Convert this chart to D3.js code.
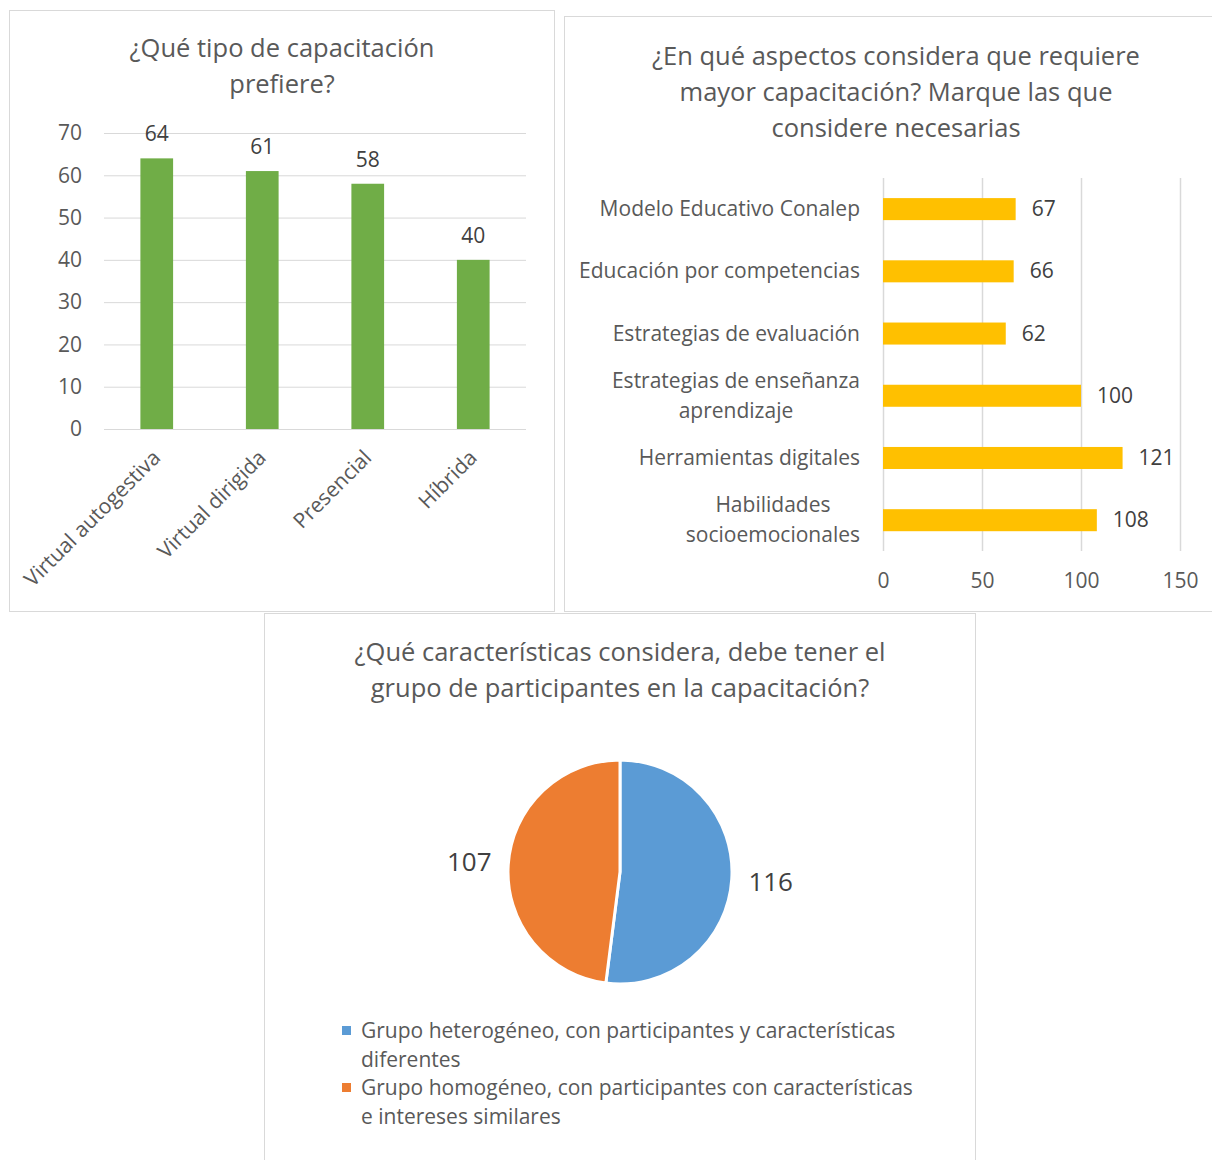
<!DOCTYPE html>
<html>
<head>
<meta charset="utf-8">
<script src="https://cdn.jsdelivr.net/npm/d3@7"></script>
<style>
  body { margin: 0; background: #fff; }
  text { font-family: "Open Sans", "Noto Sans", sans-serif; }
</style>
</head>
<body>
<div id="chart"></div>
<script>
// chart 1: tipo de capacitación
const tipoCategorias = ["Virtual autogestiva", "Virtual dirigida", "Presencial", "Híbrida"];
const tipoValores = [64, 61, 58, 40];
const tipoTicks = [0, 10, 20, 30, 40, 50, 60, 70];

// chart 2: aspectos que requieren capacitación
const aspectoCategorias = [
  ["Modelo Educativo Conalep"],
  ["Educación por competencias"],
  ["Estrategias de evaluación"],
  ["Estrategias de enseñanza", "aprendizaje"],
  ["Herramientas digitales"],
  ["Habilidades", "socioemocionales"]
];
const aspectoValores = [67, 66, 62, 100, 121, 108];
const aspectoTicks = [0, 50, 100, 150];

// chart 3: características del grupo
const grupoEtiquetas = [
  ["Grupo heterogéneo, con participantes y características", "diferentes"],
  ["Grupo homogéneo, con participantes con características", "e intereses similares"]
];
const grupoValores = [116, 107];

const gridColor = "#d9d9d9";
const textColor = "#595959";
const labelColor = "#404040";

const svg = d3.select("#chart").append("svg")
  .attr("width", 1212)
  .attr("height", 1160);

// panel borders
svg.append("rect").attr("x", 9.5).attr("y", 10.5).attr("width", 545).attr("height", 601)
  .attr("fill", "none").attr("stroke", gridColor);
svg.append("rect").attr("x", 564.5).attr("y", 16.5).attr("width", 660).attr("height", 595)
  .attr("fill", "none").attr("stroke", gridColor);
svg.append("rect").attr("x", 264.5).attr("y", 613.5).attr("width", 711).attr("height", 560)
  .attr("fill", "none").attr("stroke", gridColor);

function title(lines, cx, y0, step) {
  svg.append("g").selectAll("text")
    .data(lines)
    .enter().append("text")
    .attr("x", cx)
    .attr("y", (d, i) => y0 + i * step)
    .attr("text-anchor", "middle")
    .attr("font-size", 25.5)
    .attr("fill", textColor)
    .text(d => d);
}

// ---------- chart 1 ----------
title(["¿Qué tipo de capacitación", "prefiere?"], 282, 57, 36);

const x1 = d3.scaleBand()
  .domain(tipoCategorias)
  .range([104, 526])
  .paddingInner(0.69)
  .paddingOuter(0.345);
const y1 = d3.scaleLinear().domain([0, 70]).range([429, 133]);

const g1 = svg.append("g");
g1.append("g")
  .attr("transform", "translate(104,0)")
  .call(d3.axisLeft(y1).tickValues(tipoTicks).tickSize(-422).tickPadding(22))
  .call(g => g.select(".domain").remove())
  .call(g => g.selectAll(".tick line").attr("stroke", gridColor))
  .call(g => g.selectAll(".tick text").attr("font-size", 21).attr("fill", textColor)
    .attr("font-family", "'Open Sans', sans-serif"));

g1.selectAll("rect.bar")
  .data(tipoValores)
  .enter().append("rect")
  .attr("class", "bar")
  .attr("x", (d, i) => x1(tipoCategorias[i]))
  .attr("y", d => y1(d))
  .attr("width", x1.bandwidth())
  .attr("height", d => y1(0) - y1(d))
  .attr("fill", "#70ad47");

g1.selectAll("text.val")
  .data(tipoValores)
  .enter().append("text")
  .attr("class", "val")
  .attr("x", (d, i) => x1(tipoCategorias[i]) + x1.bandwidth() / 2)
  .attr("y", d => y1(d) - 17)
  .attr("text-anchor", "middle")
  .attr("font-size", 21)
  .attr("fill", labelColor)
  .text(d => d);

g1.selectAll("text.cat")
  .data(tipoCategorias)
  .enter().append("text")
  .attr("class", "cat")
  .attr("transform", d => "translate(" + (x1(d) + x1.bandwidth() / 2 + 5) + ",459)rotate(-45)")
  .attr("text-anchor", "end")
  .attr("font-size", 21)
  .attr("fill", textColor)
  .text(d => d);

// ---------- chart 2 ----------
title(["¿En qué aspectos considera que requiere", "mayor capacitación? Marque las que", "considere necesarias"], 896, 65, 36);

const x2 = d3.scaleLinear().domain([0, 150]).range([883, 1180]);
const y2 = d3.scaleBand()
  .domain(d3.range(aspectoCategorias.length))
  .range([178, 551.3])
  .paddingInner(0.646)
  .paddingOuter(0.323);

const g2 = svg.append("g");
g2.append("g")
  .attr("transform", "translate(0,551)")
  .call(d3.axisBottom(x2).tickValues(aspectoTicks).tickSize(-373).tickPadding(22))
  .call(g => g.select(".domain").remove())
  .call(g => g.selectAll(".tick line").attr("stroke", gridColor).attr("stroke-width", 1.5))
  .call(g => g.selectAll(".tick text").attr("font-size", 21).attr("fill", textColor)
    .attr("font-family", "'Open Sans', sans-serif"));

g2.selectAll("rect.bar")
  .data(aspectoValores)
  .enter().append("rect")
  .attr("class", "bar")
  .attr("x", x2(0))
  .attr("y", (d, i) => y2(i))
  .attr("width", d => x2(d) - x2(0))
  .attr("height", y2.bandwidth())
  .attr("fill", "#ffc000");

g2.selectAll("text.val")
  .data(aspectoValores)
  .enter().append("text")
  .attr("class", "val")
  .attr("x", d => x2(d) + 16)
  .attr("y", (d, i) => y2(i) + y2.bandwidth() / 2 + 7)
  .attr("text-anchor", "start")
  .attr("font-size", 21)
  .attr("fill", labelColor)
  .text(d => d);

aspectoCategorias.forEach((lines, i) => {
  const cy = y2(i) + y2.bandwidth() / 2;
  const t = g2.append("text")
    .attr("text-anchor", "middle")
    .attr("font-size", 21)
    .attr("fill", textColor);
  const spans = t.selectAll("tspan").data(lines).enter().append("tspan")
    .attr("y", (d, j) => cy + 7 + (j - (lines.length - 1) / 2) * 30)
    .text(d => d);
  let maxW = 0;
  spans.each(function () { maxW = Math.max(maxW, this.getComputedTextLength()); });
  spans.attr("x", 860 - maxW / 2);
});

// ---------- chart 3 ----------
title(["¿Qué características considera, debe tener el", "grupo de participantes en la capacitación?"], 620, 661, 36);

const colors3 = ["#5b9bd5", "#ed7d31"];
const pie = d3.pie().sort(null).value(d => d);
const arcs = pie(grupoValores);
const arc = d3.arc().innerRadius(0).outerRadius(112);
const labelArc = d3.arc().innerRadius(151).outerRadius(151);

const g3 = svg.append("g").attr("transform", "translate(620,872)");
g3.selectAll("path")
  .data(arcs)
  .enter().append("path")
  .attr("d", arc)
  .attr("fill", (d, i) => colors3[i])
  .attr("stroke", "#fff")
  .attr("stroke-width", 3);

g3.selectAll("text")
  .data(arcs)
  .enter().append("text")
  .attr("x", d => labelArc.centroid(d)[0])
  .attr("y", d => labelArc.centroid(d)[1] + 9)
  .attr("text-anchor", "middle")
  .attr("font-size", 26)
  .attr("fill", labelColor)
  .text(d => d.data);

const legend = svg.append("g");
grupoEtiquetas.forEach((lines, i) => {
  const y0 = 1031 + i * 57;
  legend.append("rect")
    .attr("x", 342).attr("y", y0 - 5).attr("width", 9).attr("height", 9)
    .attr("fill", colors3[i]);
  legend.append("text")
    .attr("font-size", 21)
    .attr("fill", textColor)
    .selectAll("tspan").data(lines).enter().append("tspan")
    .attr("x", 361)
    .attr("y", (d, j) => y0 + 7 + j * 29)
    .text(d => d);
});
</script>
</body>
</html>
